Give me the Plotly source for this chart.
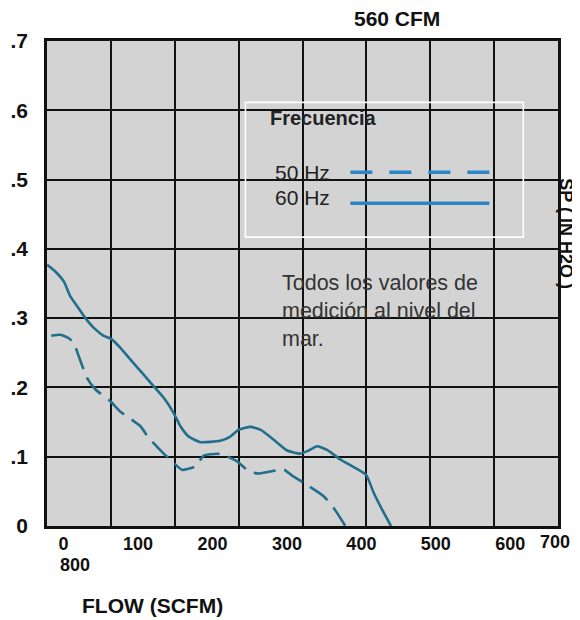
import plotly.graph_objects as go

# ---- data ----
FLOW_60HZ = [-21.9, -10.7, 0.4, 9.4, 20.5, 29.5, 40.7, 54.1, 64, 76.5, 90, 105.6, 121.2, 134.6,
             148, 157, 168.2, 183.9, 210.7, 224, 235.3, 251, 264.4, 282.3, 300.3, 318, 329.3,
             340.5, 354, 371.8, 389.7, 406.3, 416.5, 427.7, 439.8]
SP_60HZ = [0.377, 0.367, 0.353, 0.331, 0.314, 0.300, 0.286, 0.2745, 0.270, 0.257, 0.240, 0.221,
           0.2015, 0.185, 0.163, 0.144, 0.129, 0.121, 0.123, 0.129, 0.139, 0.143, 0.139, 0.1246,
           0.109, 0.1045, 0.109, 0.115, 0.110, 0.096, 0.085, 0.074, 0.048, 0.024, 0.0]

FLOW_50HZ = [-16.5, -4, 7.1, 13.8, 20.5, 31.8, 43, 63, 76.5, 103.4, 114.5, 134.6, 148, 159.3,
             177.2, 188.3, 210.7, 233, 248.7, 262, 295.7, 306.9, 322.5, 349.4, 362.8, 378.5]
SP_50HZ = [0.2745, 0.276, 0.271, 0.264, 0.245, 0.2135, 0.197, 0.180, 0.165, 0.144, 0.127,
           0.1045, 0.091, 0.081, 0.086, 0.1016, 0.104, 0.0934, 0.079, 0.0757, 0.0814, 0.0728,
           0.0622, 0.043, 0.026, 0.0]

X_TICK_VALS = [0, 100, 200, 300, 400, 500, 600]
X_TICK_TEXT = ["0", "100", "200", "300", "400", "500", "600"]
X_LAST_TICK_TEXT = "700"
Y_TICK_VALS = [0, 0.1, 0.2, 0.3, 0.4, 0.5, 0.6, 0.7]
Y_TICK_TEXT = ["0", ".1", ".2", ".3", ".4", ".5", ".6", ".7"]

SERIES_NAMES = ["50 Hz", "60 Hz"]

# ---- geometry (window pixels; the page body has an 8px margin) ----
OFF = 8
W, H = 580 - OFF, 620 - OFF
L, R, T, B = 46.5, 557.7, 40.5, 526.5   # plot area in window pixels
PX_PER_UNIT = 0.745
X0_PX = 63.0


def fx(p):
    return (p - L) / (R - L)


def fy(p):
    return (B - p) / (B - T)


x_lo = (L - X0_PX) / PX_PER_UNIT
x_hi = (R - X0_PX) / PX_PER_UNIT
grid_step = (R - L) / 8 / PX_PER_UNIT

CURVE = "#226e8d"
LEG = "#2b85c2"
INK = "#111111"
FONT = "Liberation Sans"

fig = go.Figure()
fig.add_trace(go.Scatter(x=FLOW_60HZ, y=SP_60HZ, mode="lines", name=SERIES_NAMES[1],
                         line=dict(color=CURVE, width=2.6, shape="spline", smoothing=0.5),
                         showlegend=False, hoverinfo="skip"))
fig.add_trace(go.Scatter(x=FLOW_50HZ, y=SP_50HZ, mode="lines", name=SERIES_NAMES[0],
                         line=dict(color=CURVE, width=2.6, dash="22px,9px", shape="spline",
                                   smoothing=0.5),
                         showlegend=False, hoverinfo="skip"))

fig.update_layout(
    width=W, height=H,
    margin=dict(l=L - OFF, r=W - (R - OFF), t=T - OFF, b=H - (B - OFF), pad=0, autoexpand=False),
    paper_bgcolor="white",
    plot_bgcolor="#d3d3d3",
    showlegend=False,
    xaxis=dict(range=[x_lo, x_hi], tickmode="array", tickvals=X_TICK_VALS, ticktext=X_TICK_TEXT,
               ticks="", ticklabelstandoff=0, showgrid=False, zeroline=False,
               tickfont=dict(family=FONT, size=18, color=INK, weight="bold"),
               minor=dict(tickmode="linear", tick0=x_lo, dtick=grid_step, showgrid=True,
                          gridcolor=INK, gridwidth=2, ticks=""),
               showline=True, linecolor=INK, linewidth=2.5, mirror=True),
    yaxis=dict(range=[0, 0.7], tickmode="array", tickvals=Y_TICK_VALS, ticktext=Y_TICK_TEXT,
               showgrid=True, gridcolor=INK, gridwidth=2, zeroline=False,
               showline=True, linecolor=INK, linewidth=2.5, mirror=True,
               ticks="", ticklabelstandoff=12,
               tickfont=dict(family=FONT, size=21, color=INK, weight="bold")),
)

shapes = [
    dict(type="rect", xref="paper", yref="paper", x0=fx(245), x1=fx(523), y0=fy(237), y1=fy(102),
         line=dict(color="white", width=1.6), fillcolor="rgba(0,0,0,0)", layer="above"),
    dict(type="line", xref="paper", yref="paper", x0=fx(350), x1=fx(489), y0=fy(172), y1=fy(172),
         line=dict(color=LEG, width=3.5, dash="22px,17px")),
    dict(type="line", xref="paper", yref="paper", x0=fx(350), x1=fx(489), y0=fy(203), y1=fy(203),
         line=dict(color=LEG, width=3.5)),
]
fig.update_layout(shapes=shapes)

ann = [
    dict(text=X_LAST_TICK_TEXT, x=fx(555), y=fy(543), xanchor="center", yanchor="middle",
         font=dict(family=FONT, size=18, color=INK, weight="bold")),
    dict(text="800", x=fx(58), y=fy(566), xanchor="left", yanchor="middle",
         font=dict(family=FONT, size=18, color=INK, weight="bold")),
    dict(text="560 CFM", x=fx(397), y=fy(18), xanchor="center", yanchor="middle",
         font=dict(family=FONT, size=21, color=INK, weight="bold")),
    dict(text="FLOW (SCFM)", x=fx(80), y=fy(606), xanchor="left", yanchor="middle",
         font=dict(family=FONT, size=21, color=INK, weight="bold")),
    dict(text="SP ( IN H2O )", x=fx(565.5), y=fy(234), xanchor="center", yanchor="middle",
         textangle=90, font=dict(family=FONT, size=18, color=INK, weight="bold")),
    dict(text="Frecuencia", x=fx(268), y=fy(118), xanchor="left", yanchor="middle",
         font=dict(family=FONT, size=20, color="#222222", weight="bold")),
    dict(text=SERIES_NAMES[0], x=fx(273), y=fy(172), xanchor="left", yanchor="middle",
         font=dict(family=FONT, size=21, color="#222222")),
    dict(text=SERIES_NAMES[1], x=fx(273), y=fy(197), xanchor="left", yanchor="middle",
         font=dict(family=FONT, size=21, color="#222222")),
    dict(text="Todos los valores de<br>medición al nivel del<br>mar.", x=fx(280), y=fy(269),
         xanchor="left", yanchor="top", align="left",
         font=dict(family=FONT, size=21.5, color="#333333")),
]
for a in ann:
    a["xref"] = "paper"
    a["yref"] = "paper"
    a["showarrow"] = False
fig.update_layout(annotations=ann)

fig.write_html("out.html")
